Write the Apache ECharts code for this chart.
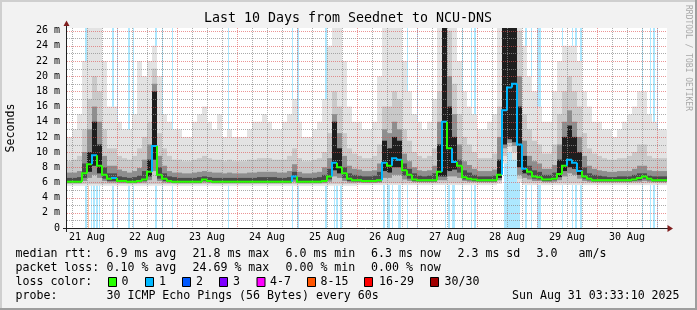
<!DOCTYPE html>
<html><head><meta charset="utf-8">
<script src="https://cdn.jsdelivr.net/npm/echarts@6/dist/echarts.min.js"></script>
<style>html,body{margin:0;padding:0;background:#f2f2f2}#c{width:697px;height:310px}</style>
</head><body><div id="c"></div><script>
// time axis: hours since 21 Aug 04:00, one sample every 2 hours
const STEP = 2;
const YMAX = 26.35;
const dayLabels = ['21 Aug','22 Aug','23 Aug','24 Aug','25 Aug','26 Aug','27 Aug','28 Aug','29 Aug','30 Aug'];
const labelHours = [8,32,56,80,104,128,152,176,200,224];
const majorHours = [20,44,68,92,116,140,164,188,212,236];
const minorHours = [2,8,14,26,32,38,50,56,62,74,80,86,98,104,110,122,128,134,146,152,158,170,176,182,194,200,206,218,224,230];

// median rtt (ms)
const med = [
6.1,6.1,6.1,7.2,8.4,9.6,8.2,7.0,6.5,6.6,
6.2,6.2,6.1,6.1,6.2,6.4,7.4,10.8,7.0,6.5,
6.2,6.1,6.1,6.1,6.1,6.1,6.1,6.4,6.2,6.1,
6.1,6.1,6.1,6.1,6.1,6.1,6.1,6.1,6.1,6.1,
6.1,6.1,6.1,6.1,6.1,6.8,6.1,6.1,6.1,6.1,
6.1,6.2,6.8,8.6,8.0,7.2,6.5,6.3,6.3,6.2,
6.2,6.2,6.3,8.6,8.2,9.2,9.0,7.6,7.0,6.4,
6.3,6.3,6.3,6.3,7.4,14.0,10.5,8.7,8.2,6.7,
6.5,6.4,6.3,6.3,6.3,6.3,7.0,15.5,18.5,19.0,
11.0,7.8,7.4,6.8,6.7,6.4,6.4,6.5,7.1,8.2,
9.0,8.6,7.5,6.8,6.5,6.3,6.3,6.3,6.3,6.3,
6.3,6.3,6.3,6.4,6.6,6.8,6.5,6.3,6.3,6.3];
// lost pings in each median sample
const medLoss = [
0,0,0,0,0,1,0,0,0,1,
0,0,0,0,0,0,0,1,0,0,
0,0,0,0,0,0,0,0,0,0,
0,0,0,0,0,0,0,0,0,0,
0,0,0,0,0,1,0,0,0,0,
0,0,0,1,0,0,0,0,0,0,
0,0,0,1,0,1,1,0,0,0,
0,0,0,0,0,1,0,1,0,0,
0,0,0,0,0,0,0,1,1,1,
1,1,0,0,0,0,0,0,0,0,
1,1,1,0,0,0,0,0,0,0,
0,0,0,0,0,0,0,0,0,0];
// smoke: ping distribution per sample (ms)
const smin = [
5.55,5.55,5.55,5.55,5.55,5.55,5.55,5.55,5.55,5.55,
5.55,5.55,5.55,5.55,5.55,5.55,5.55,5.55,5.55,5.55,
5.55,5.55,5.55,5.55,5.55,5.55,5.55,5.55,5.55,5.55,
5.55,5.55,5.55,5.55,5.55,5.55,5.55,5.55,5.55,5.55,
5.55,5.55,5.55,5.55,5.55,5.55,5.55,5.55,5.55,5.55,
5.55,5.55,5.55,5.55,5.55,5.55,5.55,5.55,5.65,5.65,
5.65,5.65,5.65,5.65,5.65,5.65,5.65,5.65,5.65,5.65,
5.65,5.65,5.65,5.65,5.65,5.65,5.65,5.65,5.65,5.65,
5.65,5.65,5.65,5.65,5.65,5.65,5.8,8.5,10,9,
6,5.65,5.65,5.65,5.65,5.65,5.65,5.65,5.65,5.65,
5.65,5.65,5.65,5.65,5.65,5.65,5.65,5.65,5.65,5.65,
5.65,5.65,5.65,5.65,5.65,5.65,5.65,5.65,5.65,5.65];
const p10 = [
5.8,5.8,5.8,5.8,5.8,5.8,5.8,5.8,5.8,5.8,
5.8,5.8,5.8,5.8,5.8,5.8,5.8,5.8,5.8,5.8,
5.8,5.8,5.8,5.8,5.8,5.8,5.8,5.8,5.8,5.8,
5.8,5.8,5.8,5.8,5.8,5.8,5.8,5.8,5.8,5.8,
5.8,5.8,5.8,5.8,5.8,5.8,5.8,5.8,5.8,5.8,
5.8,5.8,5.8,5.8,5.8,5.8,5.8,5.8,5.9,5.9,
5.9,5.9,5.9,5.9,5.9,5.9,5.9,5.9,5.9,5.9,
5.9,5.9,5.9,5.9,5.9,5.9,5.9,5.9,5.9,5.9,
5.9,5.9,5.9,5.9,5.9,5.9,6.1,9.5,10.7,10,
6.5,5.9,5.9,5.9,5.9,5.9,5.9,5.9,5.9,5.9,
5.9,5.9,5.9,5.9,5.9,5.9,5.9,5.9,5.9,5.9,
5.9,5.9,5.9,5.9,5.9,5.9,5.9,5.9,5.9,5.9];
const p25 = [
5.9,5.9,5.9,6.2,6.6,7.0,6.6,6.2,6.0,6.0,
5.95,5.95,5.9,5.9,5.95,6.0,6.3,7.5,6.2,6.0,
5.95,5.9,5.9,5.9,5.9,5.9,5.9,6.0,5.95,5.9,
5.9,5.9,5.9,5.9,5.9,5.9,5.9,5.9,5.9,5.9,
5.9,5.9,5.9,5.9,5.9,6.1,5.9,5.9,5.9,5.9,
5.9,5.95,6.1,6.8,6.6,6.2,6.0,6.0,6.0,5.95,
5.95,5.95,6.0,6.6,6.6,7.0,7.0,6.4,6.2,6.05,
6.05,6.05,6.05,6.05,6.3,6.3,6.8,6.8,6.6,6.2,
6.1,6.05,6.05,6.05,6.05,6.05,6.3,10.5,11.2,10.8,
7,6.6,6.4,6.2,6.2,6.05,6.05,6.1,6.3,6.8,
7.2,7.0,6.5,6.2,6.1,6.05,6.05,6.05,6.05,6.05,
6.05,6.05,6.05,6.1,6.1,6.2,6.1,6.05,6.05,6.05];
const p40 = [
5.98,5.98,5.98,6.6,7.4,8.2,7.2,6.5,6.2,6.2,
6.05,6.05,5.98,5.98,6.05,6.2,6.8,9.0,6.5,6.2,
6.05,5.98,5.98,5.98,5.98,5.98,5.98,6.2,6.05,5.98,
5.98,5.98,5.98,5.98,5.98,5.98,5.98,5.98,5.98,5.98,
5.98,5.98,5.98,5.98,5.98,6.4,5.98,5.98,5.98,5.98,
5.98,6.05,6.4,7.6,7.2,6.6,6.2,6.15,6.15,6.05,
6.05,6.05,6.15,7.5,7.3,8.0,8.0,6.9,6.5,6.2,
6.15,6.15,6.15,6.15,6.8,6.8,7.5,7.7,7.3,6.4,
6.3,6.2,6.15,6.15,6.15,6.15,6.6,11,11.7,11.3,
8,7.2,6.9,6.5,6.4,6.2,6.2,6.3,6.7,7.5,
8.0,7.8,7.0,6.5,6.3,6.15,6.15,6.15,6.15,6.15,
6.15,6.15,6.15,6.2,6.3,6.5,6.3,6.15,6.15,6.15];
const p60 = [
6.6,6.6,6.7,8.5,10,14,11,8,7.2,7.2,
6.8,6.7,6.6,6.7,6.9,7.5,9,18,8.0,7.2,
6.8,6.7,6.6,6.6,6.6,6.6,6.7,6.8,6.7,6.6,
6.6,6.6,6.6,6.6,6.6,6.6,6.6,6.6,6.7,6.7,
6.7,6.7,6.6,6.6,6.7,7.4,6.7,6.6,6.6,6.6,
6.7,7.0,7.8,14,10.5,8.0,7.2,7.0,6.9,6.8,
6.8,6.9,7.4,11.5,10.5,12,11.5,8.5,7.8,7.2,
6.9,6.8,6.9,7.2,11,27,16,12,9,7.6,
7.3,7.0,6.8,6.8,6.8,6.9,9,27,27,27,
16,9.5,8.2,7.6,7.4,7.0,7.0,7.3,9,12,
13.5,12,10,8,7.2,7.0,6.9,6.8,6.7,6.7,
6.8,6.8,6.8,7.0,7.2,7.2,6.9,6.8,6.8,6.8];
const p75 = [
7.3,7.3,7.5,10,13,16,14,9.5,8.2,8.2,
7.7,7.5,7.3,7.5,7.9,9.0,11,19,9.5,8.2,
7.5,7.3,7.3,7.2,7.2,7.3,7.4,7.5,7.4,7.3,
7.3,7.2,7.3,7.2,7.2,7.2,7.3,7.3,7.4,7.4,
7.4,7.4,7.3,7.3,7.5,8.4,7.4,7.2,7.2,7.3,
7.4,8.0,9.2,15,12.5,9.5,8.2,7.8,7.7,7.5,
7.5,7.6,8.5,13,12.5,14,13,9.8,8.8,8.0,
7.6,7.5,7.6,8.2,14,27,20,15,11,8.8,
8.3,7.8,7.5,7.5,7.5,7.7,12,27,27,27,
20,11.5,9.5,8.8,8.5,7.8,7.8,8.3,11,14,
15.5,14,12,9.5,8.2,7.8,7.6,7.5,7.4,7.4,
7.5,7.5,7.5,7.8,8.2,8.2,7.6,7.5,7.5,7.5];
const p90 = [
8.8,9.0,9.5,13,17,20,18,13,10.5,10.5,
9.5,9.2,9.0,9.5,10.5,12,14,21,12.5,10.5,
9.5,9.0,9.0,8.8,8.8,9.0,9.2,9.5,9.2,9.0,
9.0,8.8,9.0,8.8,8.8,8.8,9.0,9.0,9.2,9.2,
9.2,9.0,9.0,9.0,9.5,10.5,9.2,8.8,8.8,9.0,
9.2,10,12.5,18,16,12.5,10.5,9.8,9.5,9.2,
9.2,9.5,11,16,16,18,17,13,11.5,10,
9.5,9.2,9.5,10.5,18,27,26,19,15,12,
11,10,9.2,9.2,9.2,9.8,16,27,27,27,
26,15,13,11.5,11,9.8,9.8,11,15,18,
20,18,16,12.5,10.5,9.8,9.5,9.2,9.0,9.0,
9.2,9.2,9.5,10,11,11,9.5,9.2,9.2,9.2];
const smax = [
12,13,15,22,27,27,27,22,16,16,
14,13,13,15,22,20,22,24,20,15,
14,13,13,12,12,14,15,16,14,13,
15,12,13,12,12,12,13,14,14,15,
14,13,13,14,15,17,14,12,12,13,
14,17,24,27,27,22,16,14,14,13,
13,14,20,27,27,27,27,22,18,15,
14,13,14,17,27,27,27,27,22,18,
16,15,13,13,14,15,27,27,27,27,
27,24,20,18,16,14,14,18,22,24,
24,24,22,18,16,14,14,13,13,12,
13,14,15,16,18,18,15,14,13,13];
// packet-loss bars: start hour, end hour, lost pings
const lossStart = [7.2,8.4,9.6,10.4,11.6,12.8,18.0,20.0,24.4,26.4,35.2,38.0,42.0,64.4,90.0,92.0,103.2,106.8,107.6,109.2,126.4,128.0,130.0,132.4,136.0,140.0,151.2,152.4,154.0,158.0,161.6,162.8,174.8,183.2,185.6,188.0,198.0,202.0,203.2,205.2,230.0,233.2,234.4,236.0];
const lossEnd   = [8.0,8.8,10.0,11.2,12.4,13.2,18.8,20.4,25.2,26.8,36.0,38.4,42.4,64.8,90.4,92.8,104.0,107.2,108.4,110.0,127.2,129.2,130.4,133.6,136.4,140.4,151.6,153.2,155.2,158.4,162.0,163.6,181.2,184.0,186.0,189.6,198.4,202.4,204.0,206.0,230.4,233.6,235.2,236.4];
const lossCnt   = [1,8,1,1,1,1,1,1,1,1,1,1,1,1,1,1,1,1,1,1,1,1,1,1,1,1,1,1,1,1,1,1,1,1,1,1,1,1,1,1,1,1,1,1];

// legend texts
const statRtt = ['6.9 ms avg','21.8 ms max','6.0 ms min','6.3 ms now','2.3 ms sd','3.0','am/s'];
const statLoss = ['0.10 % avg','24.69 % max','0.00 % min','0.00 % now'];
const lossLabels = ['0','1','2','3','4-7','8-15','16-29','30/30'];
const lossColors = ['#26ff00','#00b8ff','#0059ff','#7e00ff','#ff00ff','#ff5500','#ff0000','#a10000'];

const FONT = '"DejaVu Sans Mono", "Liberation Mono", monospace';
function lossIndex(n){ if(n<=0) return 0; if(n<=3) return n; if(n<=7) return 4; if(n<=15) return 5; if(n<=29) return 6; return 7; }
function hexA(hex,a){ const r=parseInt(hex.substr(1,2),16),g=parseInt(hex.substr(3,2),16),b=parseInt(hex.substr(5,2),16); return 'rgba('+r+','+g+','+b+','+a+')'; }

function band(lo, hi, colorFn, z){
  return {type:'custom', z:z, silent:true, clip:true,
    data: hi.map((v,i)=>[i*STEP, lo[i], v]),
    encode:{x:0, y:[1,2]},
    renderItem:(params, api)=>{
      const t = api.value(0);
      const a = api.coord([t, api.value(2)]);
      const b = api.coord([t+STEP, api.value(1)]);
      return {type:'rect', shape:{x:a[0], y:a[1], width:b[0]-a[0], height:b[1]-a[1]},
        style:{fill: colorFn(api.value(1), api.value(2))}};
    }};
}

const stripeSeries = {type:'custom', z:1, silent:true, clip:true,
  data: lossStart.map((s,i)=>[s, lossEnd[i], lossCnt[i]]),
  encode:{x:[0,1]},
  renderItem:(params, api)=>{
    const a = api.coord([api.value(0), YMAX]);
    const b = api.coord([api.value(1), 0]);
    const x0 = Math.round(a[0]), x1 = Math.max(x0+1, Math.round(b[0]));
    return {type:'rect', shape:{x:x0, y:a[1], width:x1-x0, height:b[1]-a[1]},
      style:{fill: hexA(lossColors[lossIndex(api.value(2))], 0.32)}};
  }};

const gridData = [];
for (let v=1; v<=26; v++) gridData.push(['h', v, v%2===0 ? 1 : 0]);
majorHours.forEach(h=>gridData.push(['v', h, 1]));
minorHours.forEach(h=>gridData.push(['v', h, 0]));
const gridSeries = {type:'custom', z:8, silent:true, clip:false,
  data: gridData.map(d=>[d[1], d[2], d[0]==='h'?0:1]),
  encode:{x:0},
  renderItem:(params, api)=>{
    const v = api.value(0), major = api.value(1), vert = api.value(2);
    let x1,y1,x2,y2;
    if (vert){ const a=api.coord([v,YMAX]), b=api.coord([v,0]); x1=x2=Math.round(a[0])+0.5; y1=a[1]; y2=b[1]; }
    else { const a=api.coord([0,v]), b=api.coord([240,v]); y1=y2=Math.round(a[1])+0.5; x1=a[0]; x2=b[0]; }
    return {type:'line', shape:{x1,y1,x2,y2},
      style:{stroke: major ? 'rgba(222,79,79,0.6)' : 'rgba(143,143,143,0.75)', lineWidth:1, lineDash:[1,1]}};
  }};

// median drawn as a step line, each sample coloured by its loss
const medSeries = {type:'custom', z:10, silent:true, clip:true,
  data: med.map((v,i)=>[i*STEP, v, medLoss[i]]),
  encode:{x:0, y:1},
  renderItem:(params, api)=>{
    const i = params.dataIndex;
    const t = i*STEP;
    const prev = i>0 ? med[i-1] : med[i];
    const pts = [api.coord([t, prev]), api.coord([t, med[i]]), api.coord([t+STEP, med[i]])];
    return {type:'polyline', shape:{points:pts}, style:{stroke: lossColors[lossIndex(medLoss[i])], lineWidth:2, fill:null}};
  }};

const txt = (text, x, y, size) => ({type:'text', x:x, y:y, silent:true,
  style:{text:text, font: size+'px '+FONT, fill:'#000', align:'left', verticalAlign:'middle'}});

const graphics = [];
graphics.push({type:'rect', shape:{x:0,y:0,width:697,height:2}, style:{fill:'#cfcfcf'}, silent:true});
graphics.push({type:'rect', shape:{x:0,y:0,width:2,height:310}, style:{fill:'#cfcfcf'}, silent:true});
graphics.push({type:'rect', shape:{x:0,y:308,width:697,height:2}, style:{fill:'#9e9e9e'}, silent:true});
graphics.push({type:'rect', shape:{x:695,y:0,width:2,height:310}, style:{fill:'#9e9e9e'}, silent:true});
graphics.push({type:'text', x:348, y:19, silent:true, style:{text:'Last 10 Days from Seednet to NCU-DNS', font:'13.3px '+FONT, fill:'#000', align:'center', verticalAlign:'middle'}});
graphics.push({type:'text', x:11, y:128, rotation:Math.PI/2, silent:true, style:{text:'Seconds', font:'11.6px '+FONT, fill:'#000', align:'center', verticalAlign:'middle'}});
graphics.push({type:'text', x:688, y:58, rotation:-Math.PI/2, silent:true, style:{text:'RRDTOOL / TOBI OETIKER', font:'8px '+FONT, fill:'#a8a8a8', align:'center', verticalAlign:'middle'}});
graphics.push({type:'line', shape:{x1:63, y1:228.5, x2:668, y2:228.5}, style:{stroke:'#1f1f1f', lineWidth:1}, silent:true, z:20});
graphics.push({type:'line', shape:{x1:66.5, y1:232, x2:66.5, y2:25}, style:{stroke:'#1f1f1f', lineWidth:1}, silent:true, z:20});
graphics.push({type:'polygon', shape:{points:[[667.5,225],[667.5,232],[673,228.5]]}, style:{fill:'#801f1f'}, silent:true, z:21});
graphics.push({type:'polygon', shape:{points:[[63.5,26],[69.5,26],[66.5,20.5]]}, style:{fill:'#801f1f'}, silent:true, z:21});
const rttX = [107,193,286,371.5,458,537,579];
const lossX = [107,193,286,371.5];
graphics.push(txt('median rtt:', 15.5, 254.3, 11.6));
statRtt.forEach((s,i)=>graphics.push(txt(s, rttX[i]-0.5, 254.3, 11.6)));
graphics.push(txt('packet loss:', 15.5, 268.2, 11.6));
statLoss.forEach((s,i)=>graphics.push(txt(s, lossX[i]-0.5, 268.2, 11.6)));
graphics.push(txt('loss color:', 15.5, 281.6, 11.6));
const boxX = [108.5,145.5,182.5,219.5,257,307.5,364.5,430.5];
const labX = [122,159.5,196.5,233.5,270.5,321,379.5,445];
lossLabels.forEach((s,i)=>{
  graphics.push({type:'rect', shape:{x:boxX[i], y:277.5, width:8, height:9}, style:{fill:lossColors[i], stroke:'#000', lineWidth:1}, silent:true});
  graphics.push(txt(s, labX[i]-0.5, 281.6, 11.6));
});
graphics.push(txt('probe:', 15.5, 296.3, 11.6));
graphics.push(txt('30 ICMP Echo Pings (56 Bytes) every 60s', 106.5, 296.3, 11.6));
graphics.push(txt('Sun Aug 31 03:33:10 2025', 512, 296.3, 11.6));

const chart = echarts.init(document.getElementById('c'), null, {renderer:'canvas', width:697, height:310});
chart.setOption({
  animation:false,
  backgroundColor:'#f2f2f2',
  grid:{left:67, top:28, width:600, height:200, show:true, backgroundColor:'#ffffff', borderWidth:0},
  xAxis:{type:'value', min:0, max:240, axisLine:{show:false}, axisTick:{show:false}, splitLine:{show:false},
    axisLabel:{customValues:labelHours, formatter:(v)=>{const k=labelHours.indexOf(Math.round(v)); return k>=0?dayLabels[k]:'';},
      fontFamily:FONT, fontSize:10, color:'#000', margin:4}},
  yAxis:{type:'value', min:0, max:YMAX, interval:1, axisLine:{show:false}, axisTick:{show:false}, splitLine:{show:false},
    axisLabel:{formatter:(v)=>{ if (Math.abs(v-Math.round(v))>1e-6) return ''; const r=Math.round(v); if (r%2) return ''; return r===0?'0':r+' m'; },
      fontFamily:FONT, fontSize:10, color:'#000', margin:7}},
  series:[
    stripeSeries,
    band(smin, smax, ()=>'#e3e3e3', 2),
    band(p10, p90, ()=>'#c9c9c9', 3),
    band(p25, p75, ()=>'#8e8e8e', 4),
    band(p40, p60, (lo,hi)=> (hi-lo>2 ? '#1e1e1e' : '#4b4b4b'), 5),
    gridSeries,
    medSeries
  ],
  graphic:graphics
});
</script></body></html>
